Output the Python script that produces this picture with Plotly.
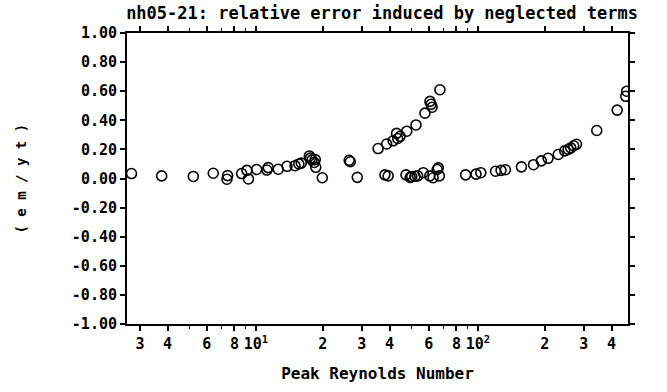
import plotly.graph_objects as go

# Peak Reynolds number vs. relative error from neglected terms
reynolds = [2.75, 3.76, 5.22, 6.42, 7.40, 7.45, 8.62, 9.10, 9.25, 10.07,
            11.2, 11.35, 12.6, 13.8, 15.0, 15.6, 16.0, 17.4, 17.6, 17.9,
            18.3, 18.5, 18.6, 19.9, 26.3, 26.6, 28.6, 35.5, 38.1, 38.8,
            39.4, 41.5, 43.0, 43.5, 44.6, 47.4, 47.8, 49.5, 50.3, 52.0,
            52.6, 53.5, 56.7, 57.7, 60.7, 60.8, 61.5, 62.2, 62.8, 65.5,
            66.3, 67.4, 67.0, 88.0, 98.0, 103, 120, 127, 133, 157,
            178, 193, 207, 230, 246, 255, 262, 270, 278, 343,
            424, 463, 468]
rel_error = [0.034, 0.018, 0.014, 0.036, -0.005, 0.020, 0.034, 0.056, -0.003, 0.062,
             0.058, 0.075, 0.064, 0.084, 0.088, 0.100, 0.106, 0.155, 0.140, 0.128,
             0.110, 0.130, 0.077, 0.005, 0.125, 0.115, 0.008, 0.206, 0.025, 0.237,
             0.018, 0.259, 0.310, 0.275, 0.290, 0.025, 0.325, 0.008, 0.012, 0.015,
             0.368, 0.018, 0.040, 0.449, 0.018, 0.530, 0.510, 0.490, 0.005, 0.062,
             0.073, 0.610, 0.018, 0.025, 0.030, 0.040, 0.050, 0.056, 0.060, 0.080,
             0.095, 0.121, 0.139, 0.165, 0.190, 0.200, 0.210, 0.225, 0.235, 0.330,
             0.470, 0.565, 0.600]

x_tickvals = [3, 4, 6, 8, 10, 20, 30, 40, 60, 80, 100, 200, 300, 400]
x_ticktext = ["3", "4", "6", "8", "10<sup>1</sup>", "2", "3", "4", "6", "8",
              "10<sup>2</sup>", "2", "3", "4"]
x_minor = [5, 7, 9, 50, 70, 90]
y_tickvals = [1.0, 0.8, 0.6, 0.4, 0.2, 0.0, -0.2, -0.4, -0.6, -0.8, -1.0]
y_ticktext = ["1.00", "0.80", "0.60", "0.40", "0.20", "0.00",
              "-0.20", "-0.40", "-0.60", "-0.80", "-1.00"]

FONT = "DejaVu Sans Mono"
W, H = 667, 392
ML, MR, MT, MB = 127, 39, 33, 54

fig = go.Figure()
fig.add_trace(go.Scatter(
    x=reynolds, y=rel_error, mode="markers",
    marker=dict(symbol="circle-open", size=10, color="black",
                line=dict(color="black", width=1.6)),
    showlegend=False, hoverinfo="x+y",
))

axis_common = dict(
    showgrid=False, zeroline=False, showline=True, linecolor="black",
    linewidth=2, mirror="allticks", ticks="outside", tickcolor="black",
    tickwidth=1.5, ticklen=5,
    tickfont=dict(family=FONT, size=15, color="black", weight="bold"),
)

fig.update_layout(
    width=W, height=H,
    margin=dict(l=ML, r=MR, t=MT, b=MB),
    paper_bgcolor="white", plot_bgcolor="white",
    title=dict(text="nh05-21: relative error induced by neglected terms",
               font=dict(family=FONT, size=17, color="black", weight="bold"),
               x=382 / W, xref="container", xanchor="center",
               y=1 - 13 / H, yref="container", yanchor="middle"),
    xaxis=dict(type="log", range=[0.419, 2.676],
               tickmode="array", tickvals=x_tickvals, ticktext=x_ticktext,
               minor=dict(tickvals=x_minor, ticks="outside", ticklen=3,
                          tickcolor="black", tickwidth=1),
               title=dict(text="Peak Reynolds Number", standoff=16,
                          font=dict(family=FONT, size=16, color="black",
                                    weight="bold")),
               **axis_common),
    yaxis=dict(range=[-1.0, 1.0], tickmode="array",
               tickvals=y_tickvals, ticktext=y_ticktext, **axis_common),
    annotations=[dict(
        text="( e m / y t )", textangle=-90,
        xref="paper", yref="paper", x=(20 - ML) / (W - ML - MR), y=0.5,
        xanchor="center", yanchor="middle", showarrow=False,
        font=dict(family=FONT, size=14, color="black", weight="bold"),
    )],
)

fig.write_html("out.html")
